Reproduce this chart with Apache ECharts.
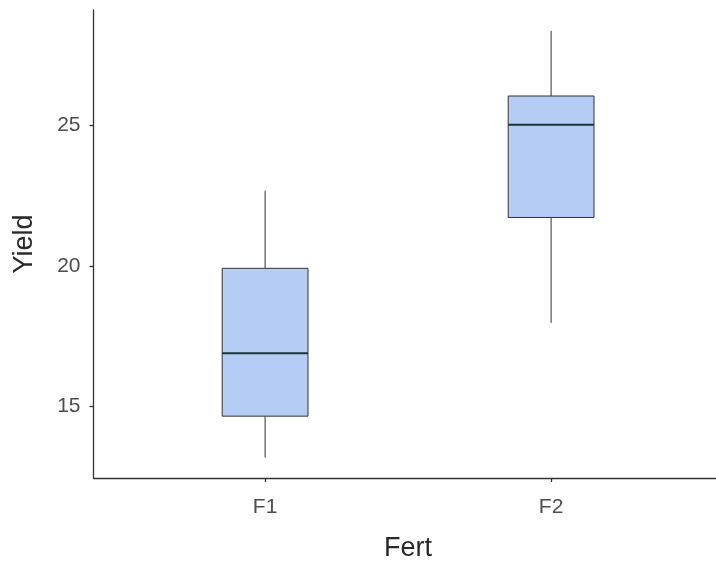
<!DOCTYPE html>
<html>
<head>
<meta charset="utf-8">
<script src="https://cdn.jsdelivr.net/npm/echarts@6/dist/echarts.min.js"></script>
<style>html,body{margin:0;padding:0;background:#fff}#c{width:716px;height:564px}</style>
</head>
<body>
<div id="c"></div>
<script>
const categories = ['F1', 'F2'];
const whiskerLow = [13.19, 17.98];
const q1 = [14.66, 21.73];
const median = [16.90, 25.03];
const q3 = [19.92, 26.05];
const whiskerHigh = [22.68, 28.37];
const yTicks = [15, 20, 25];

const data = categories.map((c, i) => [i + 1, whiskerLow[i], q1[i], median[i], q3[i], whiskerHigh[i]]);

const chart = echarts.init(document.getElementById('c'), null, {renderer: 'canvas'});
const textFont = 'Liberation Sans, Arial, sans-serif';
chart.setOption({
  animation: false,
  grid: {left: 93.5, top: 10, right: -6.7, bottom: 86, containLabel: false, outerBoundsMode: 'none'},
  xAxis: {
    type: 'value', min: 0.4, max: 2.6,
    name: 'Fert', nameLocation: 'middle', nameGap: 57,
    nameTextStyle: {fontSize: 27, color: '#2a2a2a', fontFamily: textFont},
    axisLine: {show: true, lineStyle: {color: '#333', width: 1.3}},
    axisTick: {show: true, length: 4, lineStyle: {color: '#333', width: 1.3}, customValues: [1, 2]},
    axisLabel: {fontSize: 21, color: '#4d4d4d', fontFamily: textFont, margin: 19, customValues: [1, 2],
      formatter: v => categories[Math.round(v) - 1] || ''},
    splitLine: {show: false}
  },
  yAxis: {
    type: 'value', min: 12.46, max: 29.11,
    name: 'Yield', nameLocation: 'middle', nameGap: 55,
    nameTextStyle: {fontSize: 27, color: '#2a2a2a', fontFamily: textFont},
    axisLine: {show: true, lineStyle: {color: '#333', width: 1.3}},
    axisTick: {show: true, length: 4, lineStyle: {color: '#333', width: 1.3}, customValues: yTicks},
    axisLabel: {fontSize: 21, color: '#4d4d4d', fontFamily: textFont, margin: 13, customValues: yTicks},
    splitLine: {show: false}
  },
  series: [{
    type: 'custom',
    data: data,
    encode: {x: 0, y: [1, 2, 3, 4, 5]},
    renderItem: function (params, api) {
      const x = api.value(0);
      const hw = api.size([0.3, 0])[0] / 2;
      const pLow = api.coord([x, api.value(1)]);
      const pQ1 = api.coord([x, api.value(2)]);
      const pMed = api.coord([x, api.value(3)]);
      const pQ3 = api.coord([x, api.value(4)]);
      const pHigh = api.coord([x, api.value(5)]);
      const cx = pQ1[0];
      return {
        type: 'group',
        children: [
          {type: 'line', shape: {x1: cx, y1: pHigh[1], x2: cx, y2: pQ3[1]}, style: {stroke: '#333', lineWidth: 1}},
          {type: 'line', shape: {x1: cx, y1: pQ1[1], x2: cx, y2: pLow[1]}, style: {stroke: '#333', lineWidth: 1}},
          {type: 'rect', shape: {x: cx - hw, y: pQ3[1], width: 2 * hw, height: pQ1[1] - pQ3[1]},
            style: {fill: '#b5ccf5', stroke: '#333', lineWidth: 1}},
          {type: 'line', shape: {x1: cx - hw, y1: pMed[1], x2: cx + hw, y2: pMed[1]}, style: {stroke: '#1b3535', lineWidth: 2}}
        ]
      };
    }
  }]
});
</script>
</body>
</html>
